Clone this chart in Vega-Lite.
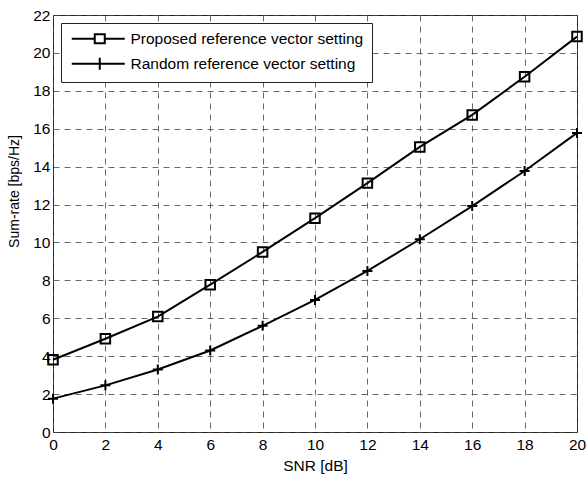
{
  "$schema": "https://vega.github.io/schema/vega-lite/v6.json",
  "width": 524,
  "height": 417,
  "autosize": "none",
  "padding": {"left": 53, "top": 15, "right": 11, "bottom": 45},
  "background": "white",
  "config": {
    "view": {"stroke": "#222", "strokeWidth": 1},
    "font": "Liberation Sans",
    "axis": {
      "labelFont": "Liberation Sans",
      "titleFont": "Liberation Sans",
      "labelFontSize": 15.5,
      "titleFontSize": 15.5,
      "labelColor": "black",
      "titleColor": "black",
      "titleFontWeight": "normal",
      "ticks": false,
      "domain": false,
      "grid": true,
      "gridColor": "#444",
      "gridDash": [6, 5],
      "gridWidth": 1,
      "gridOpacity": 0.8
    }
  },
  "data": {
    "values": [
      {"snr": 0, "rate": 3.81, "series": "Proposed reference vector setting"},
      {"snr": 2, "rate": 4.92, "series": "Proposed reference vector setting"},
      {"snr": 4, "rate": 6.09, "series": "Proposed reference vector setting"},
      {"snr": 6, "rate": 7.77, "series": "Proposed reference vector setting"},
      {"snr": 8, "rate": 9.5, "series": "Proposed reference vector setting"},
      {"snr": 10, "rate": 11.28, "series": "Proposed reference vector setting"},
      {"snr": 12, "rate": 13.13, "series": "Proposed reference vector setting"},
      {"snr": 14, "rate": 15.04, "series": "Proposed reference vector setting"},
      {"snr": 16, "rate": 16.73, "series": "Proposed reference vector setting"},
      {"snr": 18, "rate": 18.74, "series": "Proposed reference vector setting"},
      {"snr": 20, "rate": 20.86, "series": "Proposed reference vector setting"},
      {"snr": 0, "rate": 1.76, "series": "Random reference vector setting"},
      {"snr": 2, "rate": 2.46, "series": "Random reference vector setting"},
      {"snr": 4, "rate": 3.3, "series": "Random reference vector setting"},
      {"snr": 6, "rate": 4.3, "series": "Random reference vector setting"},
      {"snr": 8, "rate": 5.6, "series": "Random reference vector setting"},
      {"snr": 10, "rate": 6.97, "series": "Random reference vector setting"},
      {"snr": 12, "rate": 8.5, "series": "Random reference vector setting"},
      {"snr": 14, "rate": 10.17, "series": "Random reference vector setting"},
      {"snr": 16, "rate": 11.92, "series": "Random reference vector setting"},
      {"snr": 18, "rate": 13.77, "series": "Random reference vector setting"},
      {"snr": 20, "rate": 15.78, "series": "Random reference vector setting"}
    ]
  },
  "encoding": {
    "x": {
      "field": "snr", "type": "quantitative",
      "scale": {"domain": [0, 20], "nice": false},
      "axis": {"values": [0,2,4,6,8,10,12,14,16,18,20], "title": "SNR [dB]", "labelPadding": 5, "titlePadding": 6, "labelFlush": false}
    },
    "y": {
      "field": "rate", "type": "quantitative",
      "scale": {"domain": [0, 22], "nice": false},
      "axis": {"values": [0,2,4,6,8,10,12,14,16,18,20,22], "title": "Sum-rate [bps/Hz]", "titleFontSize": 14, "titleX": -32, "titleY": 176, "labelPadding": 3, "labelFlush": false}
    }
  },
  "layer": [
    {
      "mark": {"type": "line", "color": "black", "strokeWidth": 2},
      "encoding": {"detail": {"field": "series"}}
    },
    {
      "transform": [{"filter": "datum.series == 'Proposed reference vector setting'"}],
      "mark": {"type": "point", "shape": "square", "filled": false, "color": "black", "strokeWidth": 2, "size": 90, "opacity": 1}
    },
    {
      "transform": [{"filter": "datum.series == 'Random reference vector setting'"}],
      "mark": {"type": "point", "shape": "M-1,0H1M0,-1V1", "filled": false, "color": "black", "strokeWidth": 2, "size": 100, "opacity": 1}
    },
    {
      "mark": {"type": "point", "filled": false, "color": "black", "strokeWidth": 2, "size": 0},
      "encoding": {
        "shape": {
          "field": "series", "type": "nominal",
          "scale": {"domain": ["Proposed reference vector setting", "Random reference vector setting"], "range": ["M-1,0H3.6M5.6,0H9.6M3.6,-0.9H5.6V0.9H3.6Z", "M-1,0H9.6M4.6,-1.2V1.2"]},
          "legend": {
            "title": null,
            "orient": "top-left",
            "offset": 8,
            "padding": 8,
            "strokeColor": "#222",
            "fillColor": "white",
            "labelFontSize": 15.5,
            "labelFont": "Liberation Sans",
            "labelColor": "black",
            "labelLimit": 0,
            "symbolSize": 100,
            "symbolStrokeWidth": 2,
            "symbolStrokeColor": "black",
            "symbolFillColor": "transparent",
            "symbolOpacity": 1,
            "rowPadding": 5,
            "labelOffset": 46
          }
        }
      }
    }
  ]
}
